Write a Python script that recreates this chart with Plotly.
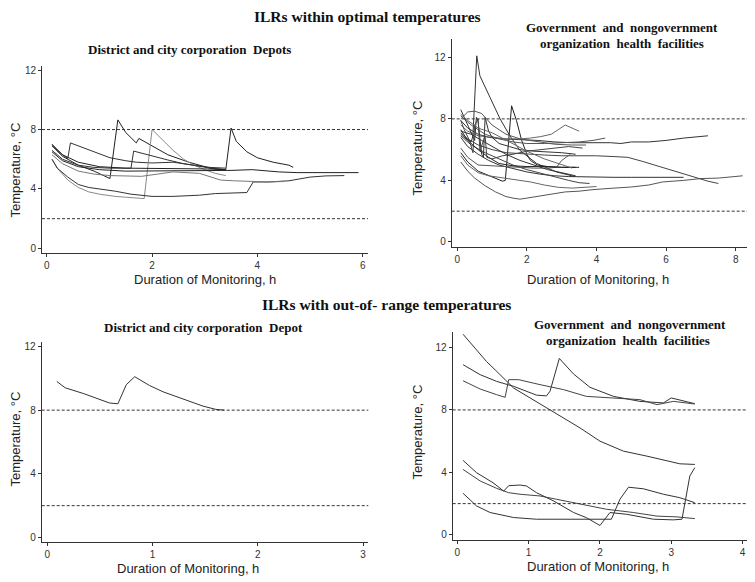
import plotly.graph_objects as go

# ---- ILRs within optimal temperatures: District and city corporation Depots ----
p1_x = [
    [0.1, 0.2, 0.3, 0.4, 0.45, 0.6, 0.8, 1.0, 1.2, 1.5, 1.7, 2.0, 2.4, 2.8, 3.1, 3.4],
    [0.1, 0.3, 0.6, 0.9, 1.2, 1.35, 1.5, 1.7, 1.75, 2.0, 2.3, 2.7, 3.1, 3.4],
    [0.1, 0.2, 0.4, 0.6, 0.8, 1.0, 1.3, 1.6, 1.85, 2.0, 2.2, 2.4, 2.6, 2.8, 3.0, 3.2, 3.4],
    [0.1, 0.3, 0.6, 0.9, 1.2, 1.4, 1.6, 1.65, 1.8, 2.0, 2.3, 2.6, 2.9, 3.2, 3.4],
    [0.1, 0.3, 0.6, 1.0, 1.5, 2.0, 2.5, 3.0, 3.4, 3.5, 3.6, 3.8, 4.0, 4.3, 4.6, 4.68],
    [0.1, 0.3, 0.6, 1.0, 1.5, 2.0, 2.5, 3.0, 3.5, 3.9, 4.4, 4.75, 5.2, 5.6, 5.92],
    [0.1, 0.2, 0.4, 0.6, 0.8, 1.0, 1.3, 1.6, 2.0, 2.4, 2.9, 3.2, 3.6, 3.8, 3.92, 4.2, 4.6, 5.0, 5.3, 5.65],
    [0.1, 0.3, 0.6, 0.9, 1.2, 1.5, 1.8, 2.1, 2.4, 2.9, 3.3, 3.55, 3.9, 4.2, 4.5],
]
p1_y = [
    [7.0, 6.6, 6.3, 6.05, 7.1, 6.9, 6.6, 6.35, 6.1, 5.9, 5.8, 5.75, 5.8, 5.6, 5.45, 5.4],
    [6.9, 6.2, 5.6, 5.2, 4.7, 8.65, 7.8, 7.1, 7.4, 6.9, 6.3, 5.8, 5.4, 5.3],
    [6.0, 5.4, 4.6, 4.1, 3.8, 3.65, 3.5, 3.4, 3.35, 8.0, 7.3, 6.6, 6.0, 5.6, 5.3, 5.05, 4.9],
    [6.6, 6.0, 5.6, 5.45, 5.4, 5.4, 5.4, 6.55, 6.4, 6.2, 5.95, 5.7, 5.5, 5.35, 5.3],
    [7.0, 6.3, 5.8, 5.5, 5.4, 5.4, 5.4, 5.35, 5.3, 8.1, 7.2, 6.5, 6.1, 5.8, 5.6, 5.45],
    [6.5, 5.9, 5.5, 5.3, 5.2, 5.2, 5.2, 5.2, 5.25, 5.3, 5.15, 5.1, 5.1, 5.1, 5.1],
    [6.0, 5.4, 4.8, 4.3, 4.1, 4.0, 3.85, 3.65, 3.5, 3.5, 3.58, 3.69, 3.72, 3.76, 4.47, 4.47, 4.55, 4.8, 4.88, 4.9],
    [6.3, 5.7, 5.2, 5.0, 4.9, 4.85, 4.85, 5.0, 5.15, 5.05, 4.6, 4.55, 4.5, 4.47, 4.5],
]
p1_col = ['#333333', '#222222', '#8a8a8a', '#333333', '#222222', '#222222', '#333333', '#777777']

# ---- ILRs within optimal temperatures: Government and nongovernment facilities ----
p2_x = [
    [0.1, 0.25, 0.4, 0.45, 0.56, 0.65, 0.94, 1.23, 1.51, 1.8, 2.28, 2.85, 3.38],
    [0.1, 0.3, 0.6, 0.9, 1.1, 1.3, 1.38, 1.56, 1.7, 1.85, 2.0, 2.1, 2.3, 2.6, 3.0, 3.4],
    [0.1, 0.3, 0.5, 0.8, 1.1, 1.4, 1.6, 1.8, 2.0, 2.3, 2.7, 3.1, 3.5, 3.9, 4.5, 5.0, 5.5, 5.9, 6.5, 7.0, 7.5, 8.0, 8.2],
    [0.1, 0.3, 0.6, 1.0, 1.4, 2.0, 2.5, 3.0, 3.5, 4.0, 4.5, 4.9, 5.3, 5.8, 6.3, 6.8, 7.2, 7.5],
    [0.1, 0.3, 0.6, 0.9, 1.3, 1.8, 2.3, 2.8, 3.3, 3.9, 4.4, 4.7, 5.0, 5.5, 6.0, 6.5, 7.0, 7.2],
    [0.1, 0.3, 0.6, 1.0, 1.4, 1.8, 2.1, 2.4, 2.7, 2.9, 3.1, 3.3, 3.5],
    [0.1, 0.4, 0.8, 1.2, 1.6, 2.0, 2.5, 3.0, 3.5, 3.9, 4.25],
    [0.1, 0.3, 0.6, 0.9, 1.2, 1.6, 2.0, 2.4, 2.8, 3.2, 3.6, 4.0, 4.5, 5.0, 5.5, 6.0, 6.5],
    [0.1, 0.3, 0.6, 0.9, 1.2, 1.5, 1.8, 2.1, 2.5, 2.9, 3.3, 3.7, 4.0],
    [0.1, 0.4, 0.8, 1.2, 1.6, 2.0, 2.4, 2.8, 3.2, 3.5, 3.8],
    [0.1, 0.3, 0.6, 1.0, 1.4, 1.8, 2.2, 2.6, 2.85, 3.0, 3.25],
    [0.1, 0.3, 0.6, 0.9, 1.2, 1.6, 2.0, 2.5, 3.0, 3.5],
    [0.1, 0.2, 0.3, 0.4, 0.5, 0.55, 0.6, 0.7, 0.75, 0.8, 0.9, 1.0, 1.2, 1.5, 1.8, 2.2, 2.6, 3.0, 3.4],
    [0.1, 0.2, 0.35, 0.45, 0.5, 0.6, 0.65, 0.8, 0.85, 1.0, 1.3, 1.6, 2.0, 2.4, 2.8, 3.2, 3.6],
    [0.1, 0.3, 0.5, 0.7, 1.0, 1.4, 1.8, 2.3, 2.8, 3.3, 3.7],
    [0.1, 0.4, 0.7, 1.0, 1.4, 1.8, 2.2, 2.6, 3.0, 3.4],
    [0.1, 0.3, 0.6, 1.0, 1.5, 2.0, 2.5, 3.0, 3.3],
]
p2_y = [
    [7.0, 6.7, 6.5, 6.9, 12.1, 10.8, 9.4, 8.0, 6.9, 5.95, 5.1, 4.55, 4.25],
    [5.8, 5.2, 4.6, 4.3, 4.1, 3.95, 4.0, 8.85, 7.9, 6.6, 5.7, 5.3, 5.0, 4.9, 4.85, 4.85],
    [5.2, 4.6, 4.15, 3.65, 3.25, 2.95, 2.85, 2.78, 2.85, 2.95, 3.1, 3.25, 3.3, 3.4, 3.5, 3.57, 3.7, 3.9, 4.0, 4.12, 4.15, 4.25, 4.3],
    [7.1, 6.7, 6.3, 6.0, 5.8, 5.7, 5.65, 5.6, 5.6, 5.6, 5.55, 5.5, 5.25, 4.9, 4.55, 4.2, 3.95, 3.8],
    [7.9, 7.4, 7.0, 6.8, 6.7, 6.65, 6.6, 6.5, 6.45, 6.45, 6.45, 6.4, 6.5, 6.5, 6.6, 6.75, 6.85, 6.9],
    [7.6, 7.2, 6.9, 6.8, 6.7, 6.7, 6.75, 6.85, 7.0, 7.3, 7.6, 7.4, 7.2],
    [8.2, 7.6, 7.0, 6.7, 6.5, 6.4, 6.4, 6.45, 6.5, 6.6, 6.75],
    [6.8, 6.2, 5.7, 5.3, 5.0, 4.75, 4.55, 4.4, 4.3, 4.25, 4.22, 4.2, 4.2, 4.2, 4.2, 4.2, 4.2],
    [5.6, 5.0, 4.5, 4.3, 4.2, 4.1, 4.0, 3.9, 3.7, 3.55, 3.5, 3.55, 3.6],
    [6.9, 6.3, 5.8, 5.4, 5.0, 4.7, 4.45, 4.25, 4.0, 3.85, 3.8],
    [6.1, 5.5, 5.0, 4.95, 4.9, 4.85, 4.8, 4.8, 4.85, 5.3, 5.7],
    [7.3, 6.6, 6.0, 5.5, 5.1, 4.95, 4.9, 4.9, 4.85, 4.85],
    [8.6, 8.1, 7.6, 7.2, 6.6, 8.1, 7.8, 5.7, 5.5, 8.1, 7.2, 6.8, 6.4, 6.2, 6.0, 5.9, 5.85, 5.8, 5.7],
    [7.9, 7.3, 6.6, 5.8, 7.6, 8.0, 5.9, 6.9, 5.5, 5.4, 5.6, 5.7, 5.9, 6.0, 6.1, 6.2, 6.1],
    [8.0, 8.45, 8.5, 8.35, 7.6, 7.0, 6.7, 6.5, 6.35, 6.3, 6.3],
    [7.2, 7.0, 6.6, 6.2, 5.7, 5.3, 5.0, 4.7, 4.5, 4.3],
    [8.3, 7.9, 7.4, 7.1, 6.5, 5.9, 5.4, 5.0, 4.8],
]
p2_col = ['#333333', '#222222', '#555555', '#444444', '#333333', '#666666', '#555555', '#333333',
          '#666666', '#444444', '#555555', '#222222', '#333333', '#444444', '#555555', '#333333', '#666666']

# ---- ILRs with out-of-range temperatures: District and city corporation Depot ----
p3_x = [[0.09, 0.17, 0.34, 0.47, 0.59, 0.67, 0.75, 0.83, 0.97, 1.1, 1.23, 1.32, 1.48, 1.6, 1.68]]
p3_y = [[9.8, 9.4, 9.05, 8.75, 8.45, 8.4, 9.6, 10.1, 9.55, 9.15, 8.85, 8.65, 8.25, 8.05, 8.0]]
p3_col = ['#333333']

# ---- ILRs with out-of-range temperatures: Government and nongovernment facilities ----
p4_x = [
    [0.08, 0.27, 0.41, 0.53, 0.65, 0.79, 1.02, 1.25, 1.49, 1.72, 2.0, 2.33, 2.66, 2.94, 3.12, 3.33],
    [0.08, 0.32, 0.55, 0.79, 1.11, 1.25, 1.3, 1.43, 1.63, 1.86, 2.19, 2.56, 2.89, 3.0, 3.33],
    [0.08, 0.32, 0.55, 0.67, 0.72, 0.86, 1.16, 1.49, 1.81, 2.19, 2.56, 2.8, 3.03, 3.33],
    [0.08, 0.27, 0.5, 0.65, 0.72, 0.88, 0.97, 1.11, 1.35, 1.63, 1.81, 2.0, 2.14, 2.37, 2.75, 3.03, 3.15, 3.26, 3.33],
    [0.08, 0.32, 0.55, 0.72, 0.88, 1.16, 1.39, 1.72, 2.09, 2.47, 2.8, 3.08, 3.33],
    [0.08, 0.27, 0.46, 0.79, 1.11, 1.72, 2.16, 2.28, 2.4, 2.61, 2.89, 3.12, 3.33],
]
p4_y = [
    [12.85, 11.85, 11.1, 10.57, 10.04, 9.4, 8.77, 8.13, 7.49, 6.85, 6.0, 5.36, 5.04, 4.72, 4.55, 4.51],
    [10.9, 10.26, 9.83, 9.51, 8.95, 8.9, 9.2, 11.3, 10.3, 9.45, 8.87, 8.55, 8.45, 8.77, 8.4],
    [9.87, 9.34, 8.98, 8.81, 9.94, 9.94, 9.62, 9.3, 8.87, 8.77, 8.66, 8.34, 8.55, 8.38],
    [4.77, 3.98, 3.34, 2.8, 3.15, 3.19, 3.13, 2.7, 2.17, 1.43, 1.1, 0.6, 1.43, 1.32, 1.0, 0.96, 1.0, 3.77, 4.3],
    [4.19, 3.45, 2.98, 2.7, 2.6, 2.49, 2.28, 1.96, 1.64, 1.43, 1.2, 1.15, 1.04],
    [2.66, 1.85, 1.43, 1.11, 1.0, 1.0, 1.0, 2.28, 3.05, 2.95, 2.6, 2.38, 2.06],
]
p4_col = ['#333333', '#333333', '#444444', '#333333', '#444444', '#333333']

# the page body has an 8px margin, so the figure sits at (8, 8) in the window
OFF = 8
W, H = 755 - OFF, 582 - OFF


def dom_x(left, right):
    return [(left - OFF) / W, (right - OFF) / W]


def dom_y(top, bottom):
    return [1 - (bottom - OFF) / H, 1 - (top - OFF) / H]


panels = [
    dict(xs=p1_x, ys=p1_y, cols=p1_col, dx=dom_x(42, 368), dy=dom_y(65, 252.7),
         rx=[-0.09, 6.1], ry=[-0.3, 12.29], xt=[0, 2, 4, 6]),
    dict(xs=p2_x, ys=p2_y, cols=p2_col, dx=dom_x(451.7, 748.3), dy=dom_y(38, 247.3),
         rx=[-0.16, 8.36], ry=[-0.36, 13.2], xt=[0, 2, 4, 6, 8]),
    dict(xs=p3_x, ys=p3_y, cols=p3_col, dx=dom_x(41.7, 368.3), dy=dom_y(341.7, 543.3),
         rx=[-0.054, 3.05], ry=[-0.31, 12.31], xt=[0, 1, 2, 3]),
    dict(xs=p4_x, ys=p4_y, cols=p4_col, dx=dom_x(452.7, 748.3), dy=dom_y(331.7, 540.7),
         rx=[-0.065, 4.08], ry=[-0.32, 13.02], xt=[0, 1, 2, 3, 4]),
]

tick_font = dict(family='Liberation Sans, Arial', size=10, color='#333333')
fig = go.Figure()
layout = {}
shapes = []

for i, p in enumerate(panels, start=1):
    sx = '' if i == 1 else str(i)
    for xv, yv, c in zip(p['xs'], p['ys'], p['cols']):
        fig.add_trace(go.Scatter(
            x=xv, y=yv, mode='lines',
            line=dict(color=c, width=1),
            xaxis='x' + sx, yaxis='y' + sx,
            showlegend=False, hoverinfo='skip'
        ))
    common = dict(showline=True, linecolor='#333333', linewidth=1, showgrid=False,
                  zeroline=False, ticks='outside', ticklen=3, tickcolor='#333333',
                  tickfont=tick_font)
    layout['xaxis' + sx] = dict(common, domain=p['dx'], range=p['rx'],
                                tickvals=p['xt'], anchor='y' + sx)
    layout['yaxis' + sx] = dict(common, domain=p['dy'], range=p['ry'],
                                tickvals=[0, 4, 8, 12], anchor='x' + sx)
    # reference lines at 2 and 8 °C
    for lvl in (2, 8):
        shapes.append(dict(type='line', xref='x' + sx + ' domain', yref='y' + sx,
                           x0=0, x1=1, y0=lvl, y1=lvl,
                           line=dict(color='#333333', width=1, dash='3px,2px')))

serif_bold = dict(family='Liberation Serif, Times New Roman', size=13, color='#111111')
main_font = dict(family='Liberation Serif, Times New Roman', size=15.5, color='#111111')
axis_font = dict(family='Liberation Sans, Arial', size=13, color='#222222')


def px_ann(text, x, y, font, angle=0):
    return dict(text=text, x=(x - OFF) / W, y=1 - (y - OFF) / H, xref='paper', yref='paper',
                xanchor='center', yanchor='middle', showarrow=False, font=font,
                textangle=angle)


annotations = [
    px_ann('<b>ILRs within optimal temperatures</b>', 367, 16, main_font),
    px_ann('<b>ILRs with out-of- range temperatures</b>', 386, 305, main_font),
    px_ann('<b>District and city corporation  Depots</b>', 189, 49, serif_bold),
    px_ann('<b>Government  and  nongovernment</b>', 622, 27, serif_bold),
    px_ann('<b>organization  health  facilities</b>', 622, 43, serif_bold),
    px_ann('<b>District and city corporation  Depot</b>', 203, 328, serif_bold),
    px_ann('<b>Government  and  nongovernment</b>', 630, 325, serif_bold),
    px_ann('<b>organization  health  facilities</b>', 628, 341, serif_bold),
    px_ann('Duration of Monitoring, h', 205, 279, axis_font),
    px_ann('Duration of Monitoring, h', 598, 279, axis_font),
    px_ann('Duration of Monitoring, h', 188, 569, axis_font),
    px_ann('Duration of Monitoring, h', 598, 567, axis_font),
    px_ann('Temperature, °C', 15, 170, axis_font, -90),
    px_ann('Temperature, °C', 418, 148, axis_font, -90),
    px_ann('Temperature, °C', 15, 440, axis_font, -90),
    px_ann('Temperature, °C', 418, 433, axis_font, -90),
]

fig.update_layout(
    width=W, height=H,
    margin=dict(l=0, r=0, t=0, b=0),
    plot_bgcolor='white', paper_bgcolor='white',
    shapes=shapes, annotations=annotations,
    **layout
)

fig.write_html("out.html")
